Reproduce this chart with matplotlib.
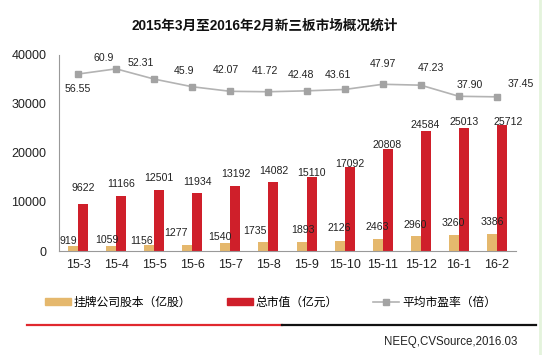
import numpy as np
import matplotlib.pyplot as plt
from matplotlib.lines import Line2D
from matplotlib.patches import Patch

plt.rcParams['font.family'] = ['Liberation Sans', 'Noto Sans CJK SC']

# данные
months = ['15-3', '15-4', '15-5', '15-6', '15-7', '15-8',
          '15-9', '15-10', '15-11', '15-12', '16-1', '16-2']
share_capital = [919, 1059, 1156, 1277, 1540, 1735, 1893, 2126, 2463, 2960, 3260, 3386]
market_value = [9622, 11166, 12501, 11934, 13192, 14082, 15110, 17092, 20808, 24584, 25013, 25712]
pe_ratio = [56.55, 60.9, 52.31, 45.9, 42.07, 41.72, 42.48, 43.61, 47.97, 47.23, 37.90, 37.45]
pe_labels = ['56.55', '60.9', '52.31', '45.9', '42.07', '41.72', '42.48', '43.61',
             '47.97', '47.23', '37.90', '37.45']

# сдвиги подписей (пиксели: dx, вверх)
gold_off = [(-5, 5.5), (-4, 6), (-8, 4.6), (-11.5, 12), (-5.6, 6.8), (-8.7, 11.5),
            (1.6, 11.7), (0, 12.3), (0, 12.2), (-1, 11.5), (-1, 11.7), (0, 12.7)]
red_off = [(0, 16), (0, 12.3), (0, 11.4), (0.5, 10.8), (0.4, 12.4), (0, 11.3),
           (0, 3.7), (0, 3.2), (-0.5, 4), (-1, 5.5), (0, 6), (6, 3.3)]
pe_off = [(0, -15), (-12, 11), (-13, 16), (-8, 16), (-4, 21), (-4, 21),
          (-6, 16), (-7, 14.5), (0, 20), (10, 17), (11, 11), (24, 12.5)]

gold = '#E5B86D'
red = '#CF1F2A'
gray_line = '#B3B3B3'
gray_mark = '#A3A3A3'

fig = plt.figure(figsize=(5.42, 3.55), dpi=100)
ax = fig.add_axes([59 / 542, 1 - 251 / 355, 457 / 542, 196 / 355])

x = np.arange(len(months))
w = 0.263
ax.bar(x - w / 2, share_capital, w, color=gold)
ax.bar(x + w / 2, market_value, w, color=red)

for i in range(len(months)):
    ax.annotate(str(share_capital[i]), (x[i] - w / 2, share_capital[i]),
                xytext=gold_off[i], textcoords='offset pixels',
                ha='center', va='center', fontsize=7.6, color='#222222')
    ax.annotate(str(market_value[i]), (x[i] + w / 2, market_value[i]),
                xytext=red_off[i], textcoords='offset pixels',
                ha='center', va='center', fontsize=7.6, color='#222222')

ax.set_xlim(-0.5, len(months) - 0.5)
ax.set_ylim(0, 40000)
ax.set_yticks([0, 10000, 20000, 30000, 40000])
ax.set_xticks(x)
ax.set_xticklabels(months)
ax.tick_params(axis='both', length=0, labelsize=9, colors='#222222')
ax.tick_params(axis='y', pad=9)
ax.tick_params(axis='x', pad=6)
for s in ['top', 'right']:
    ax.spines[s].set_visible(False)
ax.spines['left'].set_color('#999999')
ax.spines['bottom'].set_color('#999999')

# вторичная ось для P/E
ax2 = ax.twinx()
ax2.set_ylim(-91.7, 72.5)
ax2.plot(x, pe_ratio, color=gray_line, lw=1.2, marker='s', ms=4.5,
         markerfacecolor=gray_mark, markeredgecolor=gray_mark)
for i in range(len(months)):
    ax2.annotate(pe_labels[i], (x[i], pe_ratio[i]), xytext=pe_off[i],
                 textcoords='offset pixels', ha='center', va='center',
                 fontsize=7.6, color='#222222')
ax2.axis('off')

fig.text(265 / 542, 1 - 26 / 355, '2015年3月至2016年2月新三板市场概况统计',
         ha='center', va='center', fontsize=9.8, fontweight='bold', color='#111111')

handles = [Patch(color=gold), Patch(color=red),
           Line2D([], [], color=gray_line, lw=1.2, marker='s', ms=4.5,
                  markerfacecolor=gray_mark, markeredgecolor=gray_mark)]
names = ['挂牌公司股本（亿股）', '总市值（亿元）', '平均市盈率（倍）']
fig.legend(handles, names, ncol=3, loc='center left',
           bbox_to_anchor=(40 / 542, 1 - 303 / 355), frameon=False,
           fontsize=8.5, handlelength=2.2, handleheight=0.55,
           handletextpad=0.25, columnspacing=3.0, borderaxespad=0)

# нижняя линия
yl = 1 - 324.5 / 355
fig.add_artist(Line2D([27 / 542, 282 / 542], [yl, yl], color='#E0282E', lw=1.6))
fig.add_artist(Line2D([282 / 542, 536 / 542], [yl, yl], color='#111111', lw=1.6))
fig.add_artist(Line2D([540 / 542, 540 / 542], [0, 1], color='#E4F3DC', lw=2))

fig.text(517 / 542, 1 - 341.7 / 355, 'NEEQ,CVSource,2016.03', ha='right', va='center',
         fontsize=8.3, color='#222222')

fig.savefig('out.png', dpi=100)
